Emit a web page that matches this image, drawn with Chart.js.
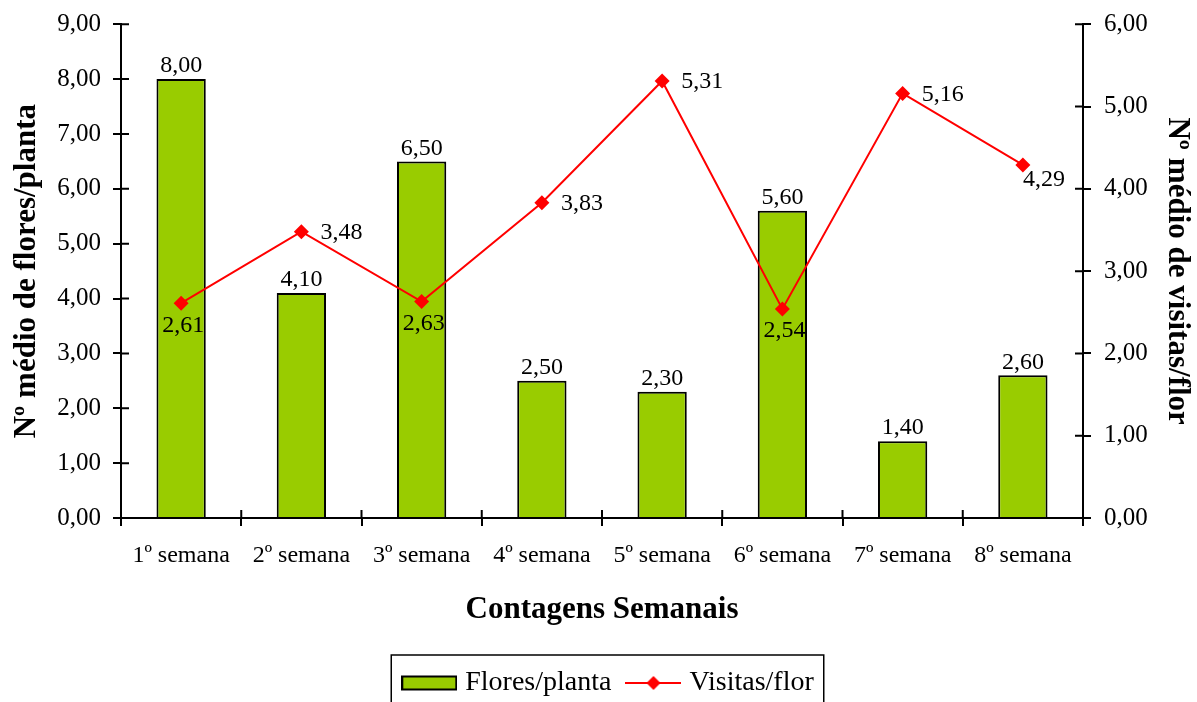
<!DOCTYPE html>
<html>
<head>
<meta charset="utf-8">
<script src="https://cdn.jsdelivr.net/npm/chart.js@4/dist/chart.umd.min.js"></script>
<style>
  body { margin: 0; background: #fff; }
  #wrap { width: 1197px; height: 702px; }
</style>
</head>
<body>
<div id="wrap"><canvas id="weeklyChart" width="1197" height="702"></canvas></div>
<script>
const semanas = ["1º semana", "2º semana", "3º semana", "4º semana", "5º semana", "6º semana", "7º semana", "8º semana"];
const floresPlanta = [8.00, 4.10, 6.50, 2.50, 2.30, 5.60, 1.40, 2.60];
const visitasFlor = [2.61, 3.48, 2.63, 3.83, 5.31, 2.54, 5.16, 4.29];
// where each Visitas/flor label sits next to its point
const visitasLabelSide = ["below", "right", "below", "right", "right", "below", "right", "belowRight"];

const serif = "'Liberation Serif', 'Times New Roman', serif";
const green = "#99CC00";
const red = "#FF0000";

const fmt = (v) => Number(v).toFixed(2).replace(".", ",");

// legend symbols
const floresIcon = document.createElement("canvas");
floresIcon.width = 56; floresIcon.height = 16;
(function () {
  const c = floresIcon.getContext("2d");
  c.fillStyle = green;
  c.fillRect(1, 1.5, 54, 13);
  c.strokeStyle = "#000";
  c.lineWidth = 2;
  c.strokeRect(1, 1.5, 54, 13);
})();
const visitasIcon = document.createElement("canvas");
visitasIcon.width = 56; visitasIcon.height = 16;
(function () {
  const c = visitasIcon.getContext("2d");
  c.strokeStyle = red;
  c.lineWidth = 2;
  c.beginPath(); c.moveTo(0, 8); c.lineTo(56, 8); c.stroke();
  c.fillStyle = red;
  c.beginPath(); c.moveTo(28, 1); c.lineTo(35, 8); c.lineTo(28, 15); c.lineTo(21, 8); c.closePath(); c.fill();
})();

// ticks that cross the axis lines (inner half)
const innerTicks = {
  id: "innerTicks",
  afterDraw(chart) {
    const { ctx, chartArea } = chart;
    const x = chart.scales.x, yl = chart.scales.y, yr = chart.scales.y1;
    ctx.save();
    ctx.strokeStyle = "#000";
    ctx.lineWidth = 2;
    ctx.beginPath();
    yl.ticks.forEach((t) => {
      const p = yl.getPixelForValue(t.value);
      ctx.moveTo(chartArea.left, p); ctx.lineTo(chartArea.left + 8, p);
    });
    yr.ticks.forEach((t) => {
      const p = yr.getPixelForValue(t.value);
      ctx.moveTo(chartArea.right - 8, p); ctx.lineTo(chartArea.right, p);
    });
    const step = x.width / semanas.length;
    for (let i = 0; i <= semanas.length; i++) {
      const p = x.left + i * step;
      ctx.moveTo(p, chartArea.bottom); ctx.lineTo(p, chartArea.bottom - 8);
    }
    ctx.stroke();

    // frame around the legend
    const hb = chart.legend.legendHitBoxes;
    if (hb && hb.length) {
      const l = hb[0].left - 16;
      const last = hb[hb.length - 1];
      const r = last.left + last.width + 10;
      const t = hb[0].top - 14;
      ctx.lineWidth = 1.5;
      ctx.strokeRect(l, t, r - l, 80);
    }
    ctx.restore();
  },
};

// value labels
const valueLabels = {
  id: "valueLabels",
  afterDatasetsDraw(chart) {
    const ctx = chart.ctx;
    ctx.save();
    ctx.font = "24px " + serif;
    ctx.fillStyle = "#000";
    chart.getDatasetMeta(0).data.forEach((bar, i) => {
      ctx.textAlign = "center";
      ctx.textBaseline = "bottom";
      ctx.fillText(fmt(floresPlanta[i]), bar.x, bar.y - 1);
    });
    chart.getDatasetMeta(1).data.forEach((pt, i) => {
      const side = visitasLabelSide[i];
      ctx.textBaseline = "middle";
      if (side === "right") {
        ctx.textAlign = "left";
        ctx.fillText(fmt(visitasFlor[i]), pt.x + 19, pt.y + 1);
      } else if (side === "belowRight") {
        ctx.textAlign = "left";
        ctx.fillText(fmt(visitasFlor[i]), pt.x, pt.y + 15);
      } else {
        ctx.textAlign = "center";
        ctx.fillText(fmt(visitasFlor[i]), pt.x + 2, pt.y + 22);
      }
    });
    ctx.restore();
  },
};

const ctx = document.getElementById("weeklyChart").getContext("2d");
const weeklyChart = new Chart(ctx, {
  data: {
    labels: semanas,
    datasets: [
      {
        type: "bar",
        label: "Flores/planta",
        data: floresPlanta,
        yAxisID: "y",
        backgroundColor: green,
        borderColor: "#000",
        borderWidth: 2,
        barPercentage: 0.41,
        categoryPercentage: 1,
        order: 2,
      },
      {
        type: "line",
        label: "Visitas/flor",
        data: visitasFlor,
        yAxisID: "y1",
        borderColor: red,
        backgroundColor: red,
        borderWidth: 2,
        pointStyle: "rectRot",
        pointRadius: 7.5,
        pointBorderWidth: 0,
        tension: 0,
        order: 1,
      },
    ],
  },
  options: {
    responsive: false,
    animation: false,
    devicePixelRatio: 1,
    layout: { padding: { top: 23, left: 24, right: 0, bottom: -5 } },
    scales: {
      x: {
        grid: { display: true, drawOnChartArea: false, drawTicks: true, tickLength: 8, color: "#000", lineWidth: 2 },
        border: { display: true, color: "#000", width: 2 },
        ticks: { color: "#000", font: { family: serif, size: 24 }, padding: 15, maxRotation: 0 },
        title: { display: true, text: "Contagens Semanais", color: "#000", font: { family: serif, size: 31, weight: "bold" }, padding: { top: 0, bottom: 20 } },
        afterFit(scale) { scale.height = 131; },
      },
      y: {
        position: "left",
        min: 0,
        max: 9,
        grid: { display: true, drawOnChartArea: false, drawTicks: true, tickLength: 8, color: "#000", lineWidth: 2 },
        border: { display: true, color: "#000", width: 2 },
        ticks: { stepSize: 1, color: "#000", font: { family: serif, size: 25, lineHeight: 0.9 }, padding: 12, callback: (v) => fmt(v) },
        title: { display: true, text: "Nº médio de flores/planta", color: "#000", font: { family: serif, size: 31, weight: "bold" }, padding: { top: -16, bottom: 0 } },
        afterFit(scale) { scale.width = 97; },
      },
      y1: {
        position: "right",
        min: 0,
        max: 6,
        grid: { display: true, drawOnChartArea: false, drawTicks: true, tickLength: 8, color: "#000", lineWidth: 2 },
        border: { display: true, color: "#000", width: 2 },
        ticks: { stepSize: 1, color: "#000", font: { family: serif, size: 25, lineHeight: 0.9 }, padding: 13, callback: (v) => fmt(v) },
        title: { display: true, text: "Nº médio de visitas/flor", color: "#000", font: { family: serif, size: 31, weight: "bold" }, padding: { top: 1, bottom: 0 } },
        afterFit(scale) { scale.width = 114; },
      },
    },
    plugins: {
      tooltip: { enabled: false },
      legend: {
        position: "bottom",
        labels: {
          color: "#000",
          font: { family: serif, size: 28 },
          usePointStyle: true,
          pointStyleWidth: 44,
          padding: 20,
          generateLabels: () => [
            { text: "Flores/planta", pointStyle: floresIcon, fillStyle: green, strokeStyle: "#000", lineWidth: 0, hidden: false, datasetIndex: 0, fontColor: "#000" },
            { text: "Visitas/flor", pointStyle: visitasIcon, fillStyle: red, strokeStyle: red, lineWidth: 0, hidden: false, datasetIndex: 1, fontColor: "#000" },
          ],
        },
      },
    },
  },
  plugins: [innerTicks, valueLabels],
});
</script>
</body>
</html>
